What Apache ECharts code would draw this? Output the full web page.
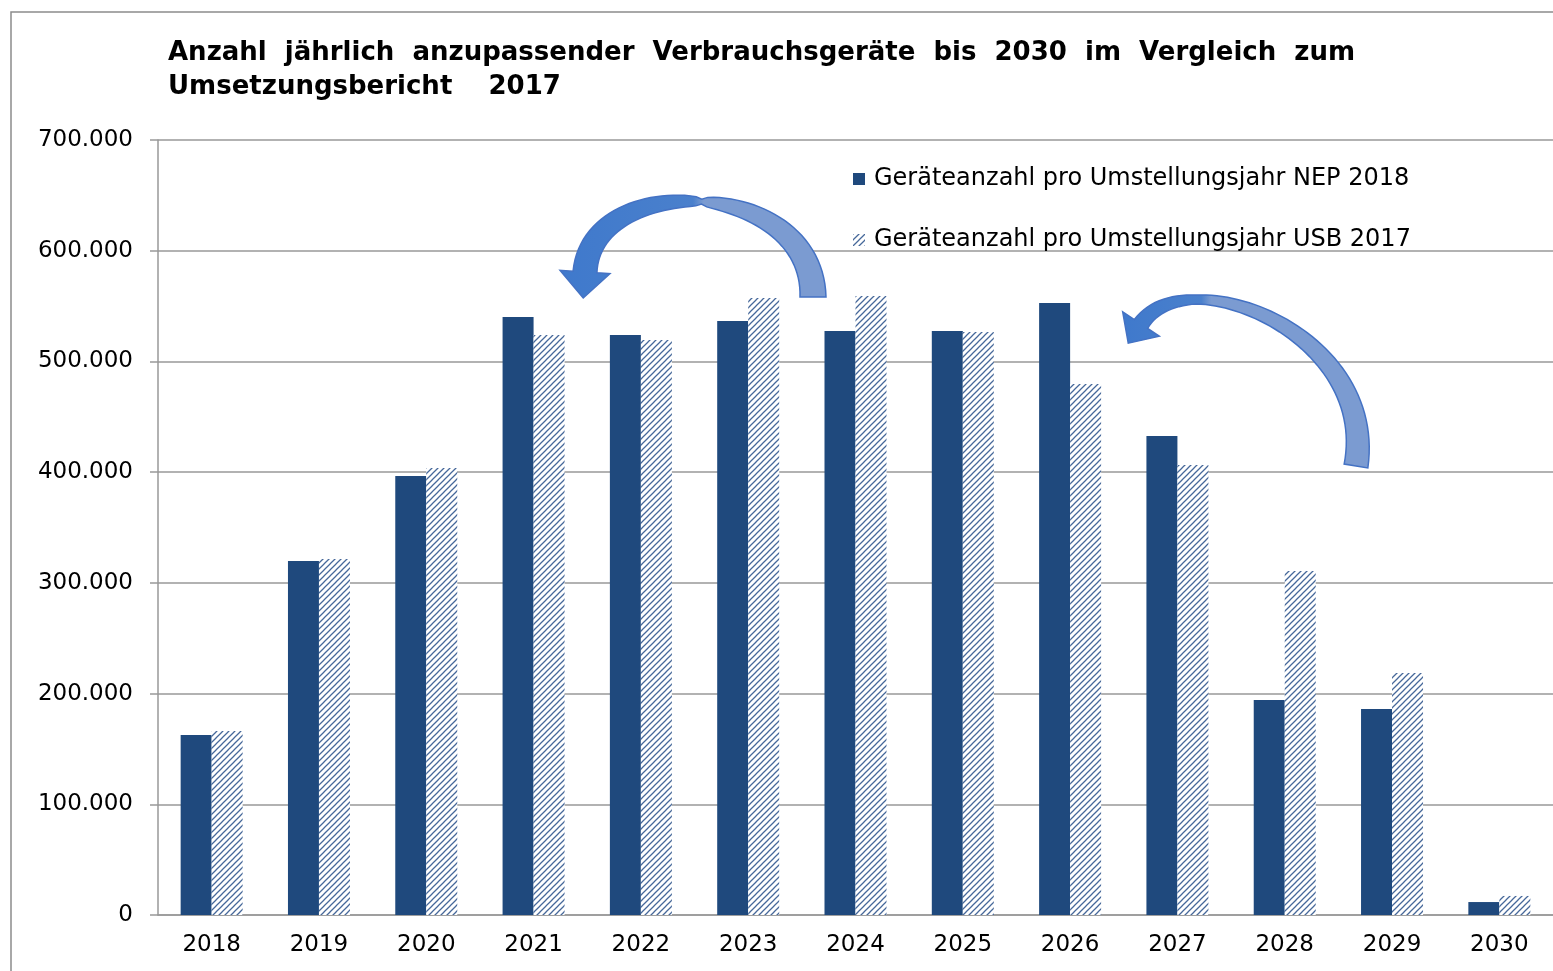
<!DOCTYPE html>
<html>
<head>
<meta charset="utf-8">
<script src="https://cdn.jsdelivr.net/npm/echarts@6/dist/echarts.min.js"></script>
<style>
  html, body { margin: 0; padding: 0; background: #fff; }
  #chart { width: 1553px; height: 971px; }
</style>
</head>
<body>
<div id="chart"></div>
<script>
// Daten
const years = ['2018', '2019', '2020', '2021', '2022', '2023', '2024', '2025', '2026', '2027', '2028', '2029', '2030']
const nep2018 = [162600, 319700, 396500, 540100, 523900, 536500, 527500, 527500, 552800, 432600, 194200, 186100, 11700]
const usb2017 = [166200, 321500, 403700, 523900, 519400, 557300, 559100, 526600, 479600, 406500, 310700, 218600, 17200]
const seriesNames = ['Geräteanzahl pro Umstellungsjahr NEP 2018', 'Geräteanzahl pro Umstellungsjahr USB 2017']
const titleText = 'Anzahl  jährlich  anzupassender  Verbrauchsgeräte  bis  2030  im  Vergleich  zum\nUmsetzungsbericht    2017'

const FONT = '"DejaVu Sans", Arial, sans-serif'
const DARK = '#1f497d'

// Schraffur für USB 2017
function hatch() {
  const c = document.createElement('canvas')
  c.width = 6
  c.height = 6
  const ctx = c.getContext('2d')
  ctx.fillStyle = '#fff'
  ctx.fillRect(0, 0, 6, 6)
  ctx.strokeStyle = '#46689a'
  ctx.lineWidth = 1.25
  ctx.beginPath()
  ctx.moveTo(-1, 7); ctx.lineTo(7, -1)
  ctx.moveTo(-4, 4); ctx.lineTo(4, -4)
  ctx.moveTo(2, 10); ctx.lineTo(10, 2)
  ctx.stroke()
  return { image: c, repeat: 'repeat' }
}

// gebogener Pfeil als Polygon
function curvedArrow(P, wFn, headHalf, headLen) {
  const N = 60
  const left = [], right = []
  let last
  for (let i = 0; i <= N; i++) {
    const t = i / N, u = 1 - t
    const x = u*u*u*P[0][0] + 3*u*u*t*P[1][0] + 3*u*t*t*P[2][0] + t*t*t*P[3][0]
    const y = u*u*u*P[0][1] + 3*u*u*t*P[1][1] + 3*u*t*t*P[2][1] + t*t*t*P[3][1]
    const dx = 3*u*u*(P[1][0]-P[0][0]) + 6*u*t*(P[2][0]-P[1][0]) + 3*t*t*(P[3][0]-P[2][0])
    const dy = 3*u*u*(P[1][1]-P[0][1]) + 6*u*t*(P[2][1]-P[1][1]) + 3*t*t*(P[3][1]-P[2][1])
    const l = Math.hypot(dx, dy)
    const nx = -dy / l, ny = dx / l
    const w = wFn(t) / 2
    left.push([x + nx*w, y + ny*w])
    right.push([x - nx*w, y - ny*w])
    last = { x, y, dx: dx / l, dy: dy / l, nx, ny }
  }
  const head = [
    [last.x + last.nx*headHalf, last.y + last.ny*headHalf],
    [last.x + last.dx*headLen, last.y + last.dy*headLen],
    [last.x - last.nx*headHalf, last.y - last.ny*headHalf]
  ]
  return left.concat(head, right.reverse())
}

function arrowFill(split) {
  return new echarts.graphic.LinearGradient(0, 0, 1, 0, [
    { offset: 0, color: '#3f79cc' },
    { offset: split, color: '#4a80cc' },
    { offset: Math.min(1, split + 0.04), color: '#7b9bd1' },
    { offset: 1, color: '#7b9bd1' }
  ])
}

const arrow1 = curvedArrow(
  [[813, 297], [813, 178], [592, 170], [585, 272]],
  t => 5 + 21 * Math.pow(Math.abs(t - 0.5) / 0.5, 0.45) * (t < 0.5 ? 1 : 0.9),
  25, 26
)
const arrow2 = curvedArrow(
  [[1356, 466], [1378, 332], [1185, 258], [1141, 324]],
  t => t < 0.75 ? 24 - 15 * (t / 0.75) : 9 + 7 * ((t - 0.75) / 0.25),
  22, 23
)

const chart = echarts.init(document.getElementById('chart'))
chart.setOption({
  animation: false,
  textStyle: { fontFamily: FONT },
  title: {
    text: titleText,
    left: 163,
    top: 31,
    textStyle: { fontFamily: FONT, fontSize: 26, fontWeight: 'bold', color: '#000', lineHeight: 34 }
  },
  legend: {
    orient: 'vertical',
    left: 848,
    top: 162,
    itemWidth: 12,
    itemHeight: 12,
    itemGap: 37,
    icon: 'rect',
    textStyle: { fontFamily: FONT, fontSize: 24, color: '#000', padding: [0, 0, 0, 4] }
  },
  grid: { left: 158, right: 0, top: 140, bottom: 56 },
  xAxis: {
    type: 'category',
    data: years,
    axisLine: { lineStyle: { color: '#999', width: 1.5 } },
    axisTick: { length: 7, lineStyle: { color: '#999', width: 1.5 } },
    axisLabel: { fontFamily: FONT, fontSize: 23, color: '#000', margin: 19 }
  },
  yAxis: {
    type: 'value',
    min: 0,
    max: 700000,
    interval: 100000,
    axisLine: { show: true, lineStyle: { color: '#999', width: 1.5 } },
    axisTick: { show: true, length: 8, lineStyle: { color: '#999', width: 1.5 } },
    splitLine: { lineStyle: { color: '#999', width: 1.5 } },
    axisLabel: {
      fontFamily: FONT, fontSize: 23, color: '#000', margin: 25,
      formatter: v => String(v).replace(/\B(?=(\d{3})+(?!\d))/g, '.')
    }
  },
  series: [
    {
      name: seriesNames[0],
      type: 'bar',
      data: nep2018,
      barWidth: 31,
      barGap: '0%',
      itemStyle: { color: DARK }
    },
    {
      name: seriesNames[1],
      type: 'bar',
      data: usb2017,
      barWidth: 31,
      itemStyle: { color: hatch() }
    }
  ],
  graphic: [
    {
      type: 'rect',
      shape: { x: 11, y: 12, width: 1600, height: 1000 },
      style: { fill: 'none', stroke: '#8c8c8c', lineWidth: 1.5 },
      z: 0, silent: true
    },
    {
      type: 'polygon',
      shape: { points: arrow1 },
      style: { fill: arrowFill(0.5), stroke: '#4472c4', lineWidth: 1.5 },
      z: 100
    },
    {
      type: 'polygon',
      shape: { points: arrow2 },
      style: { fill: arrowFill(0.32), stroke: '#4472c4', lineWidth: 1.5 },
      z: 100
    }
  ]
})

window.addEventListener('resize', () => {
  chart.resize()
})
</script>
</body>
</html>
